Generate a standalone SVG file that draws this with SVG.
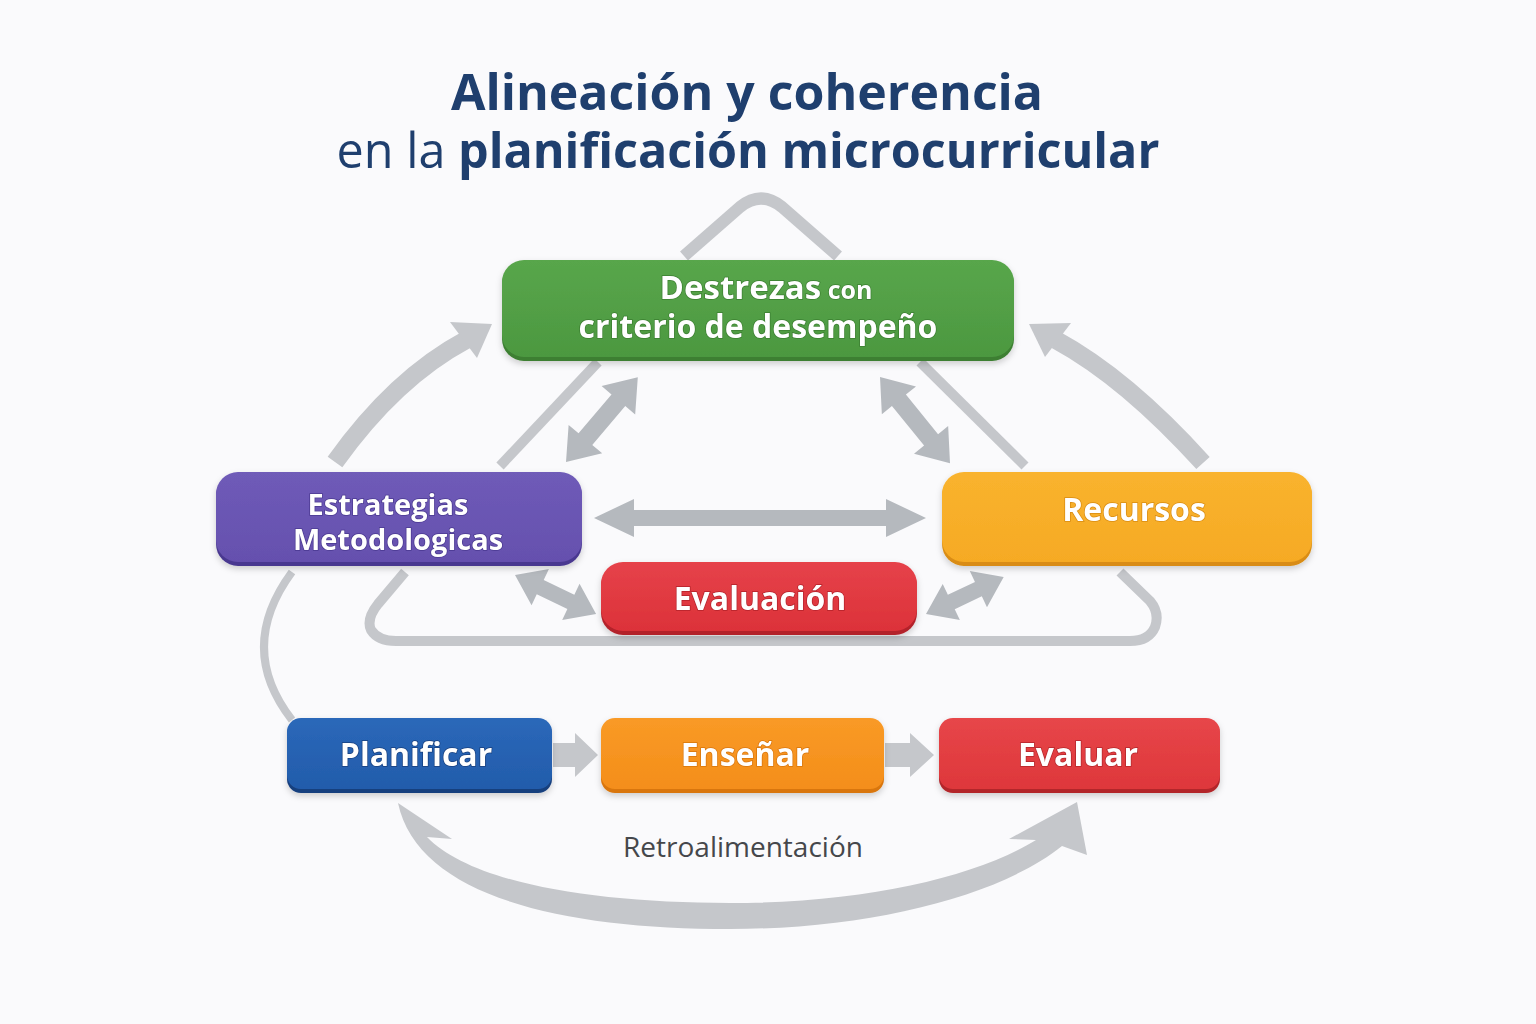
<svg xmlns="http://www.w3.org/2000/svg" width="1536" height="1024" viewBox="0 0 1536 1024">
<defs>
<style>
.title{font-family:"Open Sans","Noto Sans",sans-serif;fill:#1f3f6e;text-anchor:middle}
.b{font-weight:700}
.r{font-weight:400}
.lbl{font-family:"Open Sans","Noto Sans",sans-serif;font-weight:700;fill:#ffffff;text-anchor:middle;paint-order:stroke;stroke-width:1.5px}
.line{fill:none;stroke:#c5c7cb;stroke-linecap:butt;stroke-linejoin:round}
.arr{fill:#c5c7cb}
.darr{fill:#b5b9be}
.note{font-family:"Open Sans","Noto Sans",sans-serif;font-size:28px;fill:#45474b;text-anchor:middle}
</style>
<linearGradient id="gGreen" x1="0" y1="0" x2="0" y2="1"><stop offset="0" stop-color="#58a64b"/><stop offset="1" stop-color="#4c9840"/></linearGradient>
<linearGradient id="gPurple" x1="0" y1="0" x2="0" y2="1"><stop offset="0" stop-color="#6f5bb8"/><stop offset="1" stop-color="#6550ae"/></linearGradient>
<linearGradient id="gAmber" x1="0" y1="0" x2="0" y2="1"><stop offset="0" stop-color="#f9b32e"/><stop offset="1" stop-color="#f6aa24"/></linearGradient>
<linearGradient id="gRed" x1="0" y1="0" x2="0" y2="1"><stop offset="0" stop-color="#e6424a"/><stop offset="1" stop-color="#dc3239"/></linearGradient>
<linearGradient id="gBlue" x1="0" y1="0" x2="0" y2="1"><stop offset="0" stop-color="#2b68b9"/><stop offset="1" stop-color="#225cab"/></linearGradient>
<linearGradient id="gOrange" x1="0" y1="0" x2="0" y2="1"><stop offset="0" stop-color="#f99a26"/><stop offset="1" stop-color="#f48e1a"/></linearGradient>
<linearGradient id="gRed2" x1="0" y1="0" x2="0" y2="1"><stop offset="0" stop-color="#e74649"/><stop offset="1" stop-color="#de373b"/></linearGradient>
<filter id="sh" x="-10%" y="-20%" width="120%" height="150%"><feDropShadow dx="0" dy="3" stdDeviation="3" flood-color="#000" flood-opacity="0.18"/></filter>
</defs>
<rect width="1536" height="1024" fill="#fafafc"/>

<g id="title">
<text class="title b" x="747" y="110" font-size="50">Alineación y coherencia</text>
<text class="title" x="748" y="168" font-size="48.5"><tspan class="r">en la </tspan><tspan class="b">planificación microcurricular</tspan></text>
</g>

<g id="connectors">
<path class="line" stroke-width="12" d="M684,256 L740,207 Q761,190 782,207 L838,256"/>
<path class="line" stroke-width="10" d="M598,362 L500,466"/>
<path class="line" stroke-width="10" d="M920,362 L1025,466"/>
<path class="line" stroke-width="10" d="M405,572 L378,604 Q366,619 371,630 Q378,641 396,641 L1130,641 Q1149,641 1155,627 Q1160,613 1150,601 L1120,572"/>
<path class="line" stroke-width="8" d="M292,572 Q236,648 292,720"/>
<path class="line" stroke-width="18" d="M335,462 Q395,378 466,340"/>
<polygon class="arr" points="492,324 450,322 477,358"/>
<path class="line" stroke-width="18" d="M1203,463 Q1126,378 1056,340"/>
<polygon class="arr" points="1029,324 1071,323 1045,357"/>
<path class="darr" transform="translate(566,462) rotate(-49.7)" d="M0,0 L30,-22 L30,-9 L81,-9 L81,-22 L111,0 L81,22 L81,9 L30,9 L30,22 Z"/>
<path class="darr" transform="translate(880,377) rotate(50.9)" d="M0,0 L30,-22 L30,-9 L81,-9 L81,-22 L111,0 L81,22 L81,9 L30,9 L30,22 Z"/>
<path class="darr" transform="translate(594,518)" d="M0,0 L40,-19 L40,-8 L292,-8 L292,-19 L332,0 L292,19 L292,8 L40,8 L40,19 Z"/>
<path class="darr" transform="translate(515,575) rotate(25.7)" d="M0,0 L28,-20 L28,-8 L62,-8 L62,-20 L90,0 L62,20 L62,8 L28,8 L28,20 Z"/>
<path class="darr" transform="translate(926,614) rotate(-25.4)" d="M0,0 L28,-20 L28,-8 L58,-8 L58,-20 L86,0 L58,20 L58,8 L28,8 L28,20 Z"/>
<path class="arr" d="M553,743 L575,743 L575,733 L598,755 L575,777 L575,767 L553,767 Z"/>
<path class="arr" d="M885,743 L910,743 L910,733 L934,755 L910,777 L910,767 L885,767 Z"/>
<path class="arr" d="M398,803 L452,839 L427,837 C470,882 590,903 730,903 C868,903 978,876 1036,840 L1009,839 L1077,802 L1087,855 L1062,846 C1000,896 870,929 730,929 C560,929 418,896 398,803 Z"/>
</g>

<g id="destrezas" filter="url(#sh)">
<rect x="502" y="262" width="512" height="99" rx="22" fill="#3c7f31"/>
<rect x="502" y="260" width="512" height="97" rx="22" fill="url(#gGreen)"/>
<text class="lbl" x="766" y="299" stroke="#3c7f31"><tspan font-size="33">Destrezas</tspan><tspan font-size="25"> con</tspan></text>
<text class="lbl" x="758" y="338" font-size="32" stroke="#3c7f31">criterio de desempeño</text>
</g>

<g id="estrategias" filter="url(#sh)">
<rect x="216" y="474" width="366" height="92" rx="22" fill="#4a3990"/>
<rect x="216" y="472" width="366" height="90" rx="22" fill="url(#gPurple)"/>
<text class="lbl" x="388" y="515" font-size="29" stroke="#4a3990">Estrategias</text>
<text class="lbl" x="398" y="550" font-size="29" stroke="#4a3990">Metodologicas</text>
</g>

<g id="recursos" filter="url(#sh)">
<rect x="942" y="474" width="370" height="92" rx="22" fill="#d98c12"/>
<rect x="942" y="472" width="370" height="90" rx="22" fill="url(#gAmber)"/>
<text class="lbl" x="1134" y="521" font-size="32" stroke="#d98c12">Recursos</text>
</g>

<g id="evaluacion" filter="url(#sh)">
<rect x="601" y="564" width="316" height="71" rx="22" fill="#b3212a"/>
<rect x="601" y="562" width="316" height="69" rx="22" fill="url(#gRed)"/>
<text class="lbl" x="760" y="610" font-size="32" stroke="#b3212a">Evaluación</text>
</g>

<g id="planificar" filter="url(#sh)">
<rect x="287" y="720" width="265" height="73" rx="14" fill="#173f7e"/>
<rect x="287" y="718" width="265" height="71" rx="14" fill="url(#gBlue)"/>
<text class="lbl" x="416" y="766" font-size="32" stroke="#173f7e">Planificar</text>
</g>

<g id="ensenar" filter="url(#sh)">
<rect x="601" y="720" width="283" height="73" rx="14" fill="#d9760e"/>
<rect x="601" y="718" width="283" height="71" rx="14" fill="url(#gOrange)"/>
<text class="lbl" x="745" y="766" font-size="32" stroke="#d9760e">Enseñar</text>
</g>

<g id="evaluar" filter="url(#sh)">
<rect x="939" y="720" width="281" height="73" rx="14" fill="#b3262b"/>
<rect x="939" y="718" width="281" height="71" rx="14" fill="url(#gRed2)"/>
<text class="lbl" x="1078" y="766" font-size="32" stroke="#b3262b">Evaluar</text>
</g>

<g id="retro">
<text class="note" x="743" y="857">Retroalimentación</text>
</g>
</svg>
